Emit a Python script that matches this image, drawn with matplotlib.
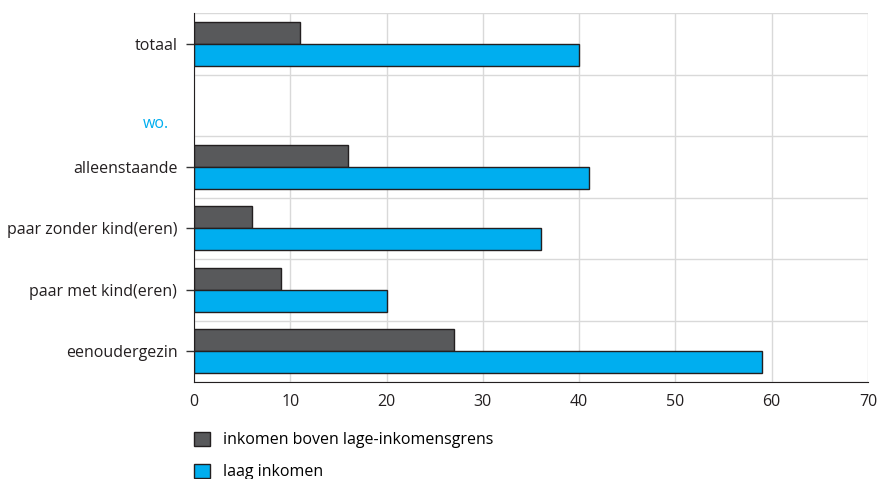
import matplotlib
matplotlib.use('Agg')
import matplotlib.pyplot as plt
import numpy as np

plt.rcParams['font.family'] = ['Open Sans', 'DejaVu Sans']

categories = ['totaal', '', 'alleenstaande', 'paar zonder kind(eren)',
              'paar met kind(eren)', 'eenoudergezin']
boven = [11, None, 16, 6, 9, 27]
laag = [40, None, 41, 36, 20, 59]
series_names = ['inkomen boven lage-inkomensgrens', 'laag inkomen']
xticks = [0, 10, 20, 30, 40, 50, 60, 70]

donker = '#58595b'
blauw = '#00aeef'
rand = '#231f20'
fs = 11.5

fig = plt.figure(figsize=(8.77, 4.79), dpi=100)
ax = fig.add_axes([194 / 877, 1 - 382 / 479, (868 - 194) / 877, (382 - 13) / 479])

y = np.arange(len(categories))
h = 0.36
idx = [i for i, v in enumerate(boven) if v is not None]
ax.barh(y[idx] - h / 2, [boven[i] for i in idx], height=h, color=donker,
        edgecolor=rand, linewidth=1, label=series_names[0], zorder=3)
ax.barh(y[idx] + h / 2, [laag[i] for i in idx], height=h, color=blauw,
        edgecolor=rand, linewidth=1, label=series_names[1], zorder=3)

ax.set_ylim(len(categories) - 0.5, -0.5)
ax.set_xlim(0, 70)
ax.set_xticks(xticks)
ax.set_yticks(y[idx])
ax.set_yticklabels([categories[i] for i in idx])
ax.set_yticks(np.arange(-0.5, len(categories), 1), minor=True)

ax.text(-2.6, 1.3, 'wo.', color=blauw, ha='right', va='center', fontsize=fs)

ax.grid(axis='x', color='#d9d9d9', linewidth=1, zorder=0)
ax.grid(axis='y', which='minor', color='#d9d9d9', linewidth=1, zorder=0)
ax.tick_params(axis='y', which='major', length=6, width=1, color='#333333',
               labelsize=fs, labelcolor='#231f20', pad=6)
ax.tick_params(axis='y', which='minor', length=0)
ax.tick_params(axis='x', length=0, labelsize=fs, labelcolor='#231f20', pad=9)

for s in ['top', 'right']:
    ax.spines[s].set_visible(False)
ax.spines['left'].set_color('#231f20')
ax.spines['bottom'].set_color('#231f20')
ax.spines['left'].set_zorder(4)
ax.spines['bottom'].set_zorder(4)

ax.legend(loc='upper left', bbox_to_anchor=(0, -0.135), frameon=False,
          fontsize=fs, handlelength=1.0, handleheight=1.0, handletextpad=0.8,
          labelspacing=0.95, borderaxespad=0, borderpad=0)

fig.savefig('out.png', dpi=100)
